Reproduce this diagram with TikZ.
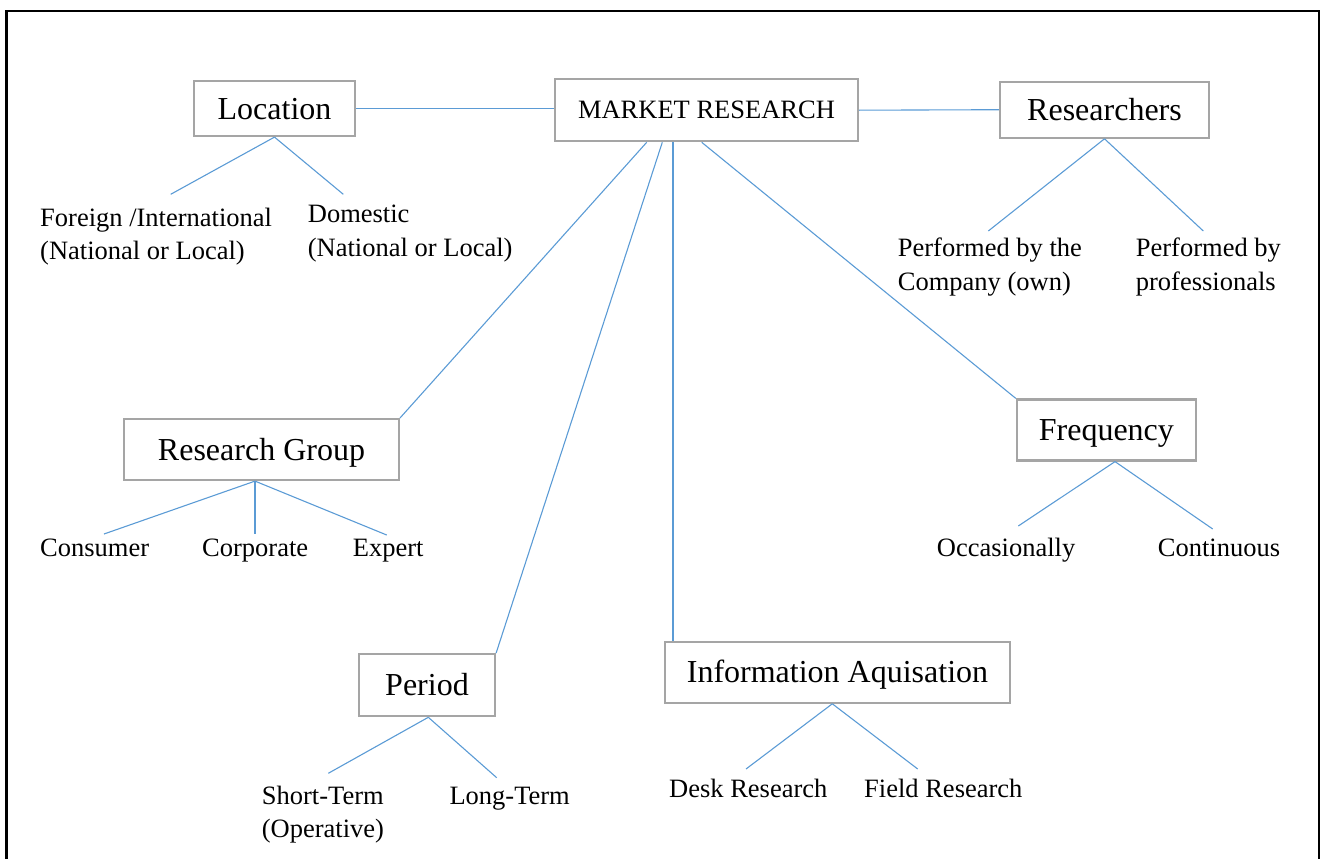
\documentclass[tikz,border=0pt]{standalone}
\usepackage{fontspec}
\setmainfont{Liberation Serif}
\usetikzlibrary{calc}
\definecolor{conn}{HTML}{5B9BD5}
\definecolor{boxgray}{HTML}{A5A5A5}
\begin{document}
\begin{tikzpicture}[x=1pt,y=-1pt,
  catbox/.style={draw=boxgray, line width=2.2pt, fill=white, inner sep=0pt,
    font=\fontsize{32}{38}\selectfont, text height=21pt, text depth=0pt},
  lbl/.style={inner sep=0pt, anchor=base west, align=left,
    font=\fontsize{26.5}{33}\selectfont},
  link/.style={draw=conn, line width=1.1pt}]
\useasboundingbox (0,0) rectangle (1322,859);
% outer frame (open at the bottom)
\draw[line width=2.5pt] (6.5,859) -- (6.5,11) -- (1319,11) -- (1319,859);

% category boxes
\node[catbox, minimum width=161pt, minimum height=55pt] (loc) at (274.5,108.5) {Location};
\node[catbox, font=\fontsize{26.5}{32}\selectfont, text height=17pt,
      minimum width=303pt, minimum height=62pt] (mr) at (706.5,110.2) {MARKET RESEARCH};
\node[catbox, minimum width=209pt, minimum height=56pt] (res) at (1104.5,109.7) {Researchers};
\node[catbox, minimum width=275pt, minimum height=61pt] (rg) at (261.5,449.5) {Research Group};
\node[catbox, minimum width=136pt, minimum height=62pt] (per) at (427,685.2) {Period};
\node[catbox, minimum width=345pt, minimum height=61pt] (info) at (837.5,672.2) {Information Aquisation};
\node[catbox, minimum width=179pt, minimum height=61pt] (freq) at (1106.4,430) {Frequency};

% leaf labels (for two-line labels the base anchor is the last line)
\node[lbl, font=\fontsize{26.5}{32.3}\selectfont] (foreign) at (40,259) {Foreign /International\\(National or Local)};
\node[lbl, font=\fontsize{26.5}{34}\selectfont] (domestic) at (307.7,256.7) {Domestic\\(National or Local)};
\node[lbl, font=\fontsize{26.5}{34}\selectfont] (own) at (897.7,290) {Performed by the\\Company (own)};
\node[lbl, font=\fontsize{26.5}{34}\selectfont] (prof) at (1135.7,290) {Performed by\\professionals};
\node[lbl] (consumer) at (40,556.7) {Consumer};
\node[lbl] (corporate) at (202,556.7) {Corporate};
\node[lbl] (expert) at (352.7,556.7) {Expert};
\node[lbl] (occ) at (936.7,556.7) {Occasionally};
\node[lbl] (cont) at (1157.7,556.7) {Continuous};
\node[lbl, font=\fontsize{26.5}{33.3}\selectfont] (short) at (261.7,837.3) {Short-Term\\(Operative)};
\node[lbl] (long) at (449.3,804) {Long-Term};
\node[lbl] (desk) at (669,797.3) {Desk Research};
\node[lbl] (field) at (864,797.3) {Field Research};

% free ends of the leaf connectors
\coordinate (locL) at (170.7,194.3);
\coordinate (locR) at (343.3,194.3);
\coordinate (resL) at (988.3,231);
\coordinate (resR) at (1203.3,231);
\coordinate (rgL) at (104,534);
\coordinate (rgM) at (255,534);
\coordinate (rgR) at (386.7,535);
\coordinate (freqL) at (1018.3,526);
\coordinate (freqR) at (1212.7,529);
\coordinate (perL) at (328.3,773.3);
\coordinate (perR) at (496.7,777.7);
\coordinate (infoL) at (746,769);
\coordinate (infoR) at (917.7,769);

% main connectors
\draw[link] (loc.east) -- (loc.east -| mr.west);
\draw[link] (mr.east) -- (res.west);
\draw[link] ([xshift=-59.8pt]mr.south) -- (rg.north east);
\draw[link] ([xshift=-44.2pt]mr.south) -- (per.north east);
\draw[link] ([xshift=-33.5pt]mr.south) -- ([xshift=-33.5pt]mr.south |- info.north);
\draw[link] ([xshift=-4.8pt]mr.south) -- (freq.north west);

% leaf connectors
\draw[link] (loc.south) -- (locL);
\draw[link] (loc.south) -- (locR);
\draw[link] (res.south) -- (resL);
\draw[link] (res.south) -- (resR);
\draw[link] ([xshift=-6.5pt]rg.south) -- (rgL);
\draw[link] ([xshift=-6.5pt]rg.south) -- (rgM);
\draw[link] ([xshift=-6.5pt]rg.south) -- (rgR);
\draw[link] ([xshift=8.6pt]freq.south) -- (freqL);
\draw[link] ([xshift=8.6pt]freq.south) -- (freqR);
\draw[link] ([xshift=1.3pt]per.south) -- (perL);
\draw[link] ([xshift=1.3pt]per.south) -- (perR);
\draw[link] ([xshift=-5.2pt]info.south) -- (infoL);
\draw[link] ([xshift=-5.2pt]info.south) -- (infoR);
\end{tikzpicture}
\end{document}
